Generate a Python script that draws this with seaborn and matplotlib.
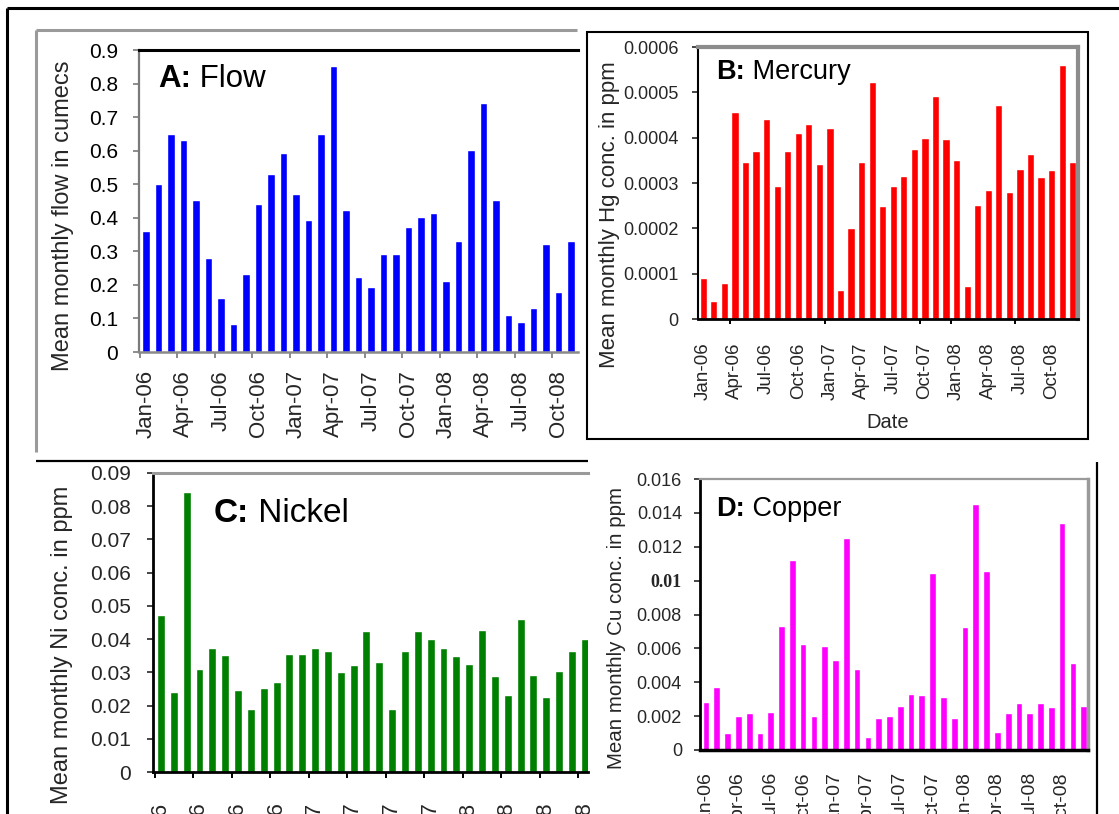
import numpy as np
import pandas as pd
import matplotlib
matplotlib.use("Agg")
import matplotlib.pyplot as plt
import seaborn as sns
from matplotlib.lines import Line2D
from matplotlib.patches import Rectangle
from matplotlib.text import Annotation

# ---------------- data ----------------
months = ["Jan-06", "Feb-06", "Mar-06", "Apr-06", "May-06", "Jun-06",
          "Jul-06", "Aug-06", "Sep-06", "Oct-06", "Nov-06", "Dec-06",
          "Jan-07", "Feb-07", "Mar-07", "Apr-07", "May-07", "Jun-07",
          "Jul-07", "Aug-07", "Sep-07", "Oct-07", "Nov-07", "Dec-07",
          "Jan-08", "Feb-08", "Mar-08", "Apr-08", "May-08", "Jun-08",
          "Jul-08", "Aug-08", "Sep-08", "Oct-08", "Nov-08", "Dec-08"]

flow = [0.362, 0.500, 0.650, 0.632, 0.452, 0.281, 0.160, 0.083, 0.231, 0.441,
        0.531, 0.592, 0.471, 0.393, 0.650, 0.852, 0.423, 0.224, 0.193, 0.291,
        0.291, 0.372, 0.402, 0.413, 0.211, 0.332, 0.602, 0.743, 0.452, 0.110,
        0.090, 0.130, 0.321, 0.180, 0.332]

mercury = [0.0000904, 0.0000404, 0.0000794, 0.000456, 0.000346, 0.000370,
           0.000441, 0.000293, 0.000371, 0.000410, 0.000430, 0.000342,
           0.000422, 0.0000632, 0.000201, 0.000346, 0.000522, 0.000250,
           0.000294, 0.000315, 0.000374, 0.000399, 0.000492, 0.000397,
           0.000351, 0.0000720, 0.000251, 0.000285, 0.000473, 0.000281,
           0.000330, 0.000365, 0.000314, 0.000329, 0.000561, 0.000346]

nickel = [0.0473, 0.0241, 0.0843, 0.0310, 0.0372, 0.0352, 0.0248, 0.0191,
          0.0252, 0.0272, 0.0354, 0.0354, 0.0372, 0.0364, 0.0300, 0.0322,
          0.0423, 0.0330, 0.0191, 0.0364, 0.0423, 0.0400, 0.0372, 0.0349,
          0.0326, 0.0427, 0.0288, 0.0233, 0.0461, 0.0292, 0.0225, 0.0304,
          0.0364, 0.0399]

copper = [0.00281, 0.00374, 0.00102, 0.00201, 0.00217, 0.00102, 0.00222,
          0.00730, 0.01122, 0.00624, 0.00201, 0.00614, 0.00531, 0.01252,
          0.00480, 0.00079, 0.00187, 0.00201, 0.00260, 0.00329, 0.00325,
          0.01047, 0.00311, 0.00191, 0.00728, 0.01455, 0.01055, 0.00108,
          0.00217, 0.00276, 0.00219, 0.00276, 0.00254, 0.01343, 0.00512,
          0.00260]

flow_ticks = ["0", "0.1", "0.2", "0.3", "0.4", "0.5", "0.6", "0.7", "0.8", "0.9"]
hg_ticks = ["0", "0.0001", "0.0002", "0.0003", "0.0004", "0.0005", "0.0006"]
ni_ticks = ["0", "0.01", "0.02", "0.03", "0.04", "0.05", "0.06", "0.07", "0.08", "0.09"]
cu_ticks = ["0", "0.002", "0.004", "0.006", "0.008", "0.01", "0.012", "0.014", "0.016"]

# ---------------- style ----------------
sns.set_style("white")
plt.rcParams["font.family"] = ["Liberation Sans", "DejaVu Sans"]
plt.rcParams["text.color"] = "black"

W, H = 1119, 814
fig = plt.figure(figsize=(W / 100, H / 100), dpi=100)
fig.patch.set_facecolor("white")


def add_ax(l, t, r, b):
    return fig.add_axes([l / W, 1 - b / H, (r - l) / W, (b - t) / H])


def fline(x0, y0, x1, y1, color="black", lw=2.0):
    fig.add_artist(Line2D([x0 / W, x1 / W], [1 - y0 / H, 1 - y1 / H],
                          transform=fig.transFigure, color=color, lw=lw,
                          solid_capstyle="butt"))


def panel(ax, values, color, width, xlim, ymax, ytick_labels, tick_size,
          ylabel, ylabel_xy, ylabel_size, ypad, xpad, xtick_size):
    n = len(values)
    df = pd.DataFrame({"month": months[:n], "value": values})
    sns.barplot(data=df, x="month", y="value", color=color, saturation=1,
                width=width, ax=ax, order=months[:n])
    ax.set_xlim(*xlim)
    ax.set_ylim(0, ymax)
    yt = np.linspace(0, ymax, len(ytick_labels))
    ax.set_yticks(yt)
    ax.set_yticklabels(ytick_labels, fontsize=tick_size)
    ax.set_xticks(range(0, n, 3))
    ax.set_xticklabels(months[0:n:3], rotation=90, fontsize=xtick_size)
    ax.tick_params(axis="x", which="major", length=0, pad=xpad)
    ax.tick_params(axis="y", which="major", direction="out", length=4,
                   width=1.2, pad=ypad, left=True)
    ax.set_xlabel("")
    ax.set_ylabel(ylabel, fontsize=ylabel_size)
    ax.yaxis.label.set(ha="center", va="center", rotation_mode="default")
    bb = ax.get_position()
    lx = (ylabel_xy[0] / W - bb.x0) / bb.width
    ly = ((1 - ylabel_xy[1] / H) - bb.y0) / bb.height
    ax.yaxis.set_label_coords(lx, ly)
    ax.set_facecolor("white")


def title(x, y, bold, rest, size):
    t1 = fig.text(x / W, 1 - y / H, bold, fontsize=size, fontweight="bold",
                  ha="left", va="bottom", zorder=10)
    ann = Annotation(rest, xy=(1, 0), xycoords=t1, fontsize=size,
                     ha="left", va="bottom", annotation_clip=False, zorder=10)
    fig.add_artist(ann)


# ---------------- Panel A : Flow ----------------
axA = add_ax(139, 50, 578, 352)
panel(axA, flow, "#0000FF", 0.58, (-0.56, 34.56), 0.9, flow_ticks, 15,
      "Mean monthly flow in cumecs", (63, 216), 17, 11, 13, 16)
axA.spines["right"].set_visible(False)
axA.spines["top"].set(color="black", lw=2.2)
axA.spines["left"].set(color="#7a7a7a", lw=1.6)
axA.spines["bottom"].set(color="#8a8a8a", lw=1.8)
axA.tick_params(axis="y", colors="#7a7a7a", labelcolor="black")
axA.set_xticks(np.arange(-0.5, len(flow), 3), minor=True)
axA.tick_params(axis="x", which="minor", direction="out", length=4.5,
                width=1.4, color="#8a8a8a", bottom=True)

# ---------------- Panel B : Mercury ----------------
axB = add_ax(698, 47, 1078, 319)
panel(axB, mercury, "#FF0000", 0.68, (-0.5, 35.5), 0.0006, hg_ticks, 13,
      "Mean monthly Hg conc. in ppm", (610, 215), 16, 10, 17, 13.5)
axB.spines["top"].set(color="#8c8c8c", lw=3)
axB.spines["right"].set(color="#8c8c8c", lw=3)
axB.spines["left"].set(color="black", lw=1.5)
axB.spines["bottom"].set(color="black", lw=2)
axB.set_xticks([2.5, 11.5, 20.5, 23.5, 29.5], minor=True)
axB.tick_params(axis="x", which="minor", direction="out", length=3.5,
                width=1.4, color="black", bottom=True)
axB.set_xlabel("Date", fontsize=14.5)
axB.xaxis.label.set(va="center")
axB.xaxis.set_label_coords((888 - 698) / 380, (319 - 423) / 272)

# ---------------- Panel C : Nickel ----------------
axC = add_ax(153, 473, 588, 772)
panel(axC, nickel, "#008000", 0.62, (-0.62, 33.25), 0.09, ni_ticks, 15,
      "Mean monthly Ni conc. in ppm", (62, 645), 17, 12, 22, 16)
axC.spines["right"].set_visible(False)
axC.spines["top"].set(color="#9a9a9a", lw=2.2)
axC.spines["left"].set(color="black", lw=2)
axC.spines["bottom"].set(color="black", lw=2)
axC.set_xticks(np.arange(-0.5, len(nickel), 3), minor=True)
axC.tick_params(axis="x", which="minor", direction="out", length=4.5,
                width=1.4, color="black", bottom=True)

# ---------------- Panel D : Copper ----------------
axD = add_ax(700, 479, 1088, 750)
panel(axD, copper, "#FF00FF", 0.62, (-0.56, 35.4), 0.016, cu_ticks, 13,
      "Mean monthly Cu conc. in ppm", (617, 628), 14.8, 9, 16, 14)
axD.spines["top"].set(color="#9a9a9a", lw=1.6)
axD.spines["right"].set(color="#9a9a9a", lw=2.5)
axD.spines["left"].set(color="black", lw=2)
axD.spines["bottom"].set(color="black", lw=2.5)
for lab in axD.get_yticklabels():
    if lab.get_text() == "0.01":
        lab.set_fontweight("bold")
        lab.set_family(["Liberation Serif", "DejaVu Serif"])

# ---------------- titles ----------------
title(158, 94, "A:", " Flow", 22.5)
title(716, 85, "B:", " Mercury", 19.5)
title(214, 529, "C:", " Nickel", 24)
title(716, 522, "D:", " Copper", 19.5)

# ---------------- decorative frames ----------------
fline(7, 8, 1119, 8, "black", 2.2)          # outer top
fline(7, 8, 7, 814, "black", 2.2)           # outer left
fline(36, 30, 577, 30, "#9a9a9a", 2.2)      # panel A frame top
fline(36, 30, 36, 452, "#9a9a9a", 2.2)      # panel A frame left
fline(36, 461, 588, 461, "black", 1.6)      # separator above C
fline(1097, 462, 1097, 814, "black", 1.6)   # right line beside D
fig.add_artist(Rectangle((587 / W, 1 - 439 / H), (1088 - 587) / W,
                         (439 - 32) / H, transform=fig.transFigure,
                         fill=False, edgecolor="black", lw=1.5))

fig.savefig("out.png", dpi=100, facecolor="white")
